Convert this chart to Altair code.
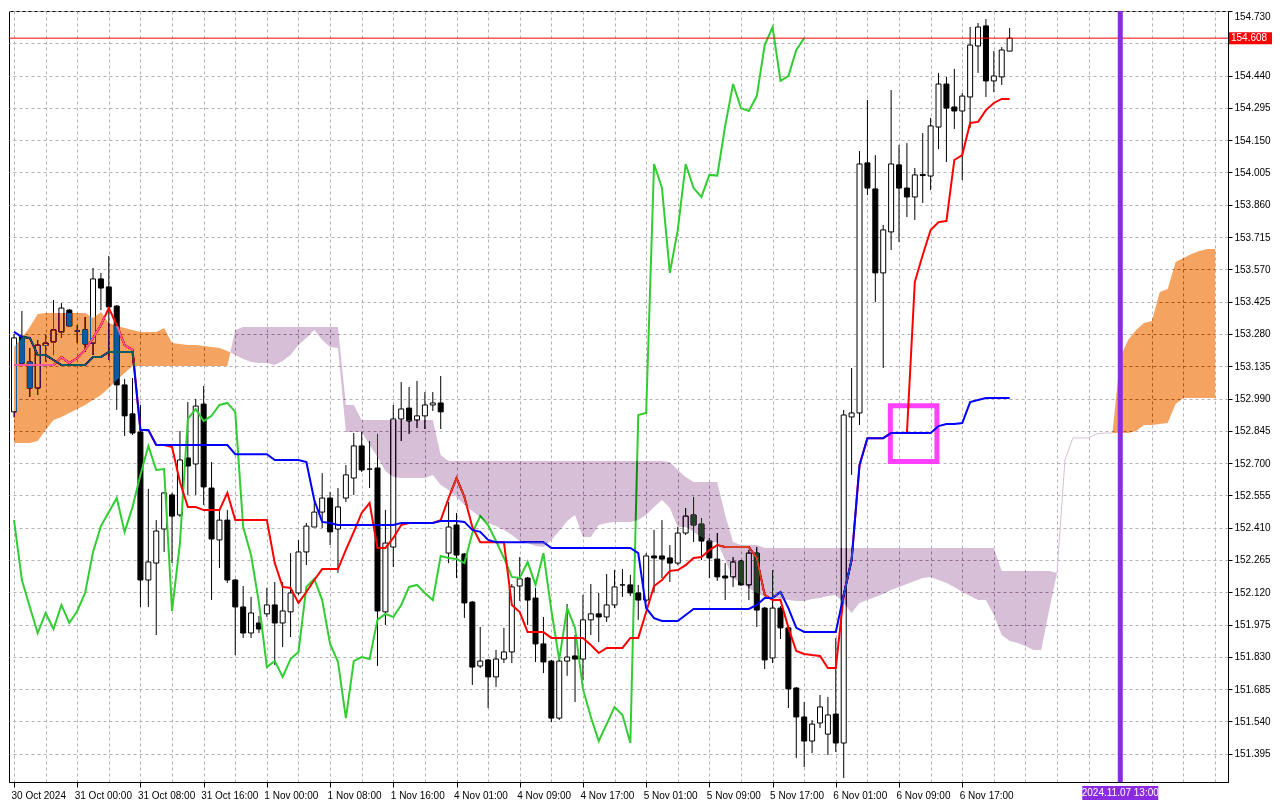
import altair as alt
import pandas as pd

# ---------------- data ----------------
time_labels = ["30 Oct 2024", "31 Oct 00:00", "31 Oct 08:00", "31 Oct 16:00",
               "1 Nov 00:00", "1 Nov 08:00", "1 Nov 16:00", "4 Nov 01:00",
               "4 Nov 09:00", "4 Nov 17:00", "5 Nov 01:00", "5 Nov 09:00",
               "5 Nov 17:00", "6 Nov 01:00", "6 Nov 09:00", "6 Nov 17:00"]
price_ticks = [round(151.395 + 0.145 * k, 3) for k in range(24)]

opens = [152.930, 153.270, 153.154, 153.037, 153.228, 153.244, 153.289, 153.387, 153.293, 153.298,
         153.239, 153.527, 153.491, 153.405, 153.051, 152.921, 152.840, 152.175, 152.251, 152.404,
         152.557, 152.467, 152.723, 152.696, 152.965, 152.588, 152.355, 152.444, 152.175, 152.054,
         151.937, 151.982, 152.023, 152.063, 151.982, 152.032, 152.117, 152.301, 152.413, 152.480,
         152.543, 152.404, 152.543, 152.633, 152.777, 152.673, 152.678, 152.032, 152.323, 152.898,
         152.947, 152.894, 152.912, 152.961, 152.970, 152.296, 152.422, 152.292, 152.076, 151.789,
         151.816, 151.740, 151.820, 151.852, 152.148, 152.184, 152.094, 151.888, 151.811, 151.555,
         151.811, 151.834, 151.820, 151.996, 152.023, 152.009, 152.063, 152.153, 152.153, 152.117,
         152.085, 152.283, 152.283, 152.274, 152.251, 152.386, 152.467, 152.426, 152.350, 152.269,
         152.193, 152.189, 152.260, 152.153, 152.296, 152.049, 151.825, 152.049, 151.960, 151.690,
         151.560, 151.452, 151.533, 151.483, 151.573, 151.443, 152.907, 152.925, 154.048, 153.931,
         153.554, 153.738, 154.039, 153.935, 153.895, 153.996, 153.989, 154.209, 154.402, 154.299,
         154.281, 154.344, 154.573, 154.663, 154.416, 154.434, 154.550]
highs = [153.280, 153.383, 153.217, 153.253, 153.275, 153.432, 153.419, 153.392, 153.320, 153.356,
         153.576, 153.554, 153.630, 153.410, 153.078, 153.082, 152.961, 152.584, 152.444, 152.570,
         152.566, 152.844, 152.974, 152.988, 153.046, 152.705, 152.490, 152.490, 152.180, 152.148,
         152.099, 152.014, 152.140, 152.166, 152.166, 152.296, 152.355, 152.431, 152.534, 152.655,
         152.570, 152.588, 152.691, 152.835, 152.840, 152.799, 152.831, 152.490, 152.961, 153.064,
         153.042, 153.069, 153.019, 153.019, 153.091, 152.525, 152.476, 152.296, 152.081, 151.964,
         151.820, 151.861, 151.960, 152.157, 152.278, 152.189, 152.139, 152.009, 151.816, 151.825,
         152.067, 151.928, 152.108, 152.157, 152.117, 152.202, 152.220, 152.224, 152.198, 152.153,
         152.296, 152.400, 152.444, 152.332, 152.413, 152.498, 152.548, 152.453, 152.364, 152.386,
         152.251, 152.278, 152.265, 152.310, 152.323, 152.054, 152.220, 152.058, 151.964, 151.695,
         151.627, 151.546, 151.659, 151.650, 151.915, 152.939, 153.127, 154.101, 154.330, 154.083,
         153.769, 154.375, 154.128, 154.137, 154.025, 154.182, 154.250, 154.452, 154.434, 154.470,
         154.362, 154.658, 154.676, 154.694, 154.550, 154.568, 154.654]
lows = [152.905, 153.140, 152.997, 153.006, 153.154, 153.185, 153.262, 153.311, 153.239, 153.199,
        153.185, 153.387, 153.163, 152.939, 152.822, 152.826, 152.054, 152.054, 151.928, 152.301,
        152.251, 152.458, 152.557, 152.557, 152.512, 152.085, 152.229, 152.162, 151.838, 151.915,
        151.915, 151.937, 152.009, 151.793, 151.874, 151.919, 152.108, 152.242, 152.413, 152.408,
        152.332, 152.207, 152.525, 152.557, 152.660, 152.588, 151.789, 151.973, 152.233, 152.799,
        152.831, 152.857, 152.853, 152.934, 152.853, 152.251, 152.184, 152.005, 151.704, 151.780,
        151.600, 151.695, 151.802, 151.802, 152.081, 151.973, 151.807, 151.757, 151.537, 151.546,
        151.745, 151.627, 151.727, 151.928, 151.896, 151.987, 152.049, 152.099, 152.103, 151.996,
        152.076, 152.117, 152.184, 152.166, 152.242, 152.377, 152.346, 152.265, 152.184, 152.171,
        152.085, 152.144, 152.148, 152.085, 151.964, 151.775, 151.802, 151.910, 151.600, 151.376,
        151.335, 151.398, 151.510, 151.389, 151.403, 151.286, 152.647, 152.871, 153.904, 153.423,
        153.127, 153.657, 153.693, 153.805, 153.792, 153.868, 153.926, 154.110, 154.052, 154.200,
        153.971, 154.205, 154.452, 154.344, 154.366, 154.398, 154.550]
closes = [153.262, 153.149, 153.037, 153.230, 153.239, 153.298, 153.396, 153.316, 153.293, 153.235,
          153.527, 153.486, 153.401, 153.051, 152.912, 152.835, 152.175, 152.256, 152.395, 152.566,
          152.462, 152.714, 152.687, 152.956, 152.593, 152.359, 152.444, 152.175, 152.054, 151.937,
          152.027, 151.955, 152.063, 151.982, 152.036, 152.117, 152.301, 152.417, 152.480, 152.543,
          152.391, 152.503, 152.647, 152.777, 152.669, 152.673, 152.036, 152.341, 152.898, 152.943,
          152.889, 152.912, 152.961, 152.970, 152.930, 152.413, 152.287, 152.072, 151.784, 151.811,
          151.740, 151.820, 151.852, 152.144, 152.180, 152.085, 151.888, 151.807, 151.555, 151.811,
          151.829, 151.820, 151.996, 152.023, 152.009, 152.063, 152.144, 152.153, 152.117, 152.085,
          152.283, 152.274, 152.269, 152.251, 152.386, 152.462, 152.422, 152.350, 152.274, 152.189,
          152.184, 152.256, 152.153, 152.296, 152.040, 151.816, 152.049, 151.960, 151.686, 151.560,
          151.452, 151.528, 151.605, 151.569, 151.443, 152.916, 152.925, 154.043, 153.935, 153.554,
          153.747, 154.043, 153.935, 153.895, 153.994, 153.991, 154.214, 154.402, 154.294, 154.281,
          154.348, 154.577, 154.658, 154.416, 154.438, 154.555, 154.608]
tenkan = [153.140, 153.140, 153.140, 153.140, 153.140, 153.140, 153.176, 153.149, 153.172, 153.208,
          153.262, 153.320, 153.396, 153.320, 153.230, 153.208, 152.849, 152.849, 152.781, 152.781,
          152.772, 152.615, 152.503, 152.503, 152.489, 152.489, 152.489, 152.566, 152.444, 152.444,
          152.444, 152.444, 152.444, 152.251, 152.144, 152.139, 152.072, 152.121, 152.175, 152.224,
          152.224, 152.224, 152.310, 152.391, 152.476, 152.521, 152.319, 152.319, 152.364, 152.422,
          152.431, 152.431, 152.431, 152.431, 152.444, 152.543, 152.633, 152.548, 152.413, 152.345,
          152.345, 152.345, 152.345, 152.063, 152.031, 151.941, 151.941, 151.941, 151.915, 151.915,
          151.915, 151.915, 151.915, 151.883, 151.847, 151.870, 151.870, 151.870, 151.915, 151.915,
          152.031, 152.148, 152.175, 152.216, 152.220, 152.242, 152.274, 152.278, 152.310, 152.332,
          152.323, 152.323, 152.323, 152.323, 152.274, 152.108, 152.085, 152.085, 151.960, 151.856,
          151.843, 151.838, 151.834, 151.780, 151.780, 152.108, 152.265, 152.691, 152.812, 152.812,
          152.812, 152.835, 152.835, 152.835, 153.514, 153.634, 153.747, 153.782, 153.787, 154.061,
          154.083, 154.227, 154.232, 154.285, 154.317, 154.335, 154.335]
kijun = [153.289, 153.266, 153.262, 153.185, 153.185, 153.163, 153.140, 153.140, 153.140, 153.140,
         153.176, 153.176, 153.199, 153.199, 153.199, 153.199, 152.849, 152.849, 152.781, 152.781,
         152.781, 152.781, 152.781, 152.781, 152.781, 152.781, 152.781, 152.781, 152.740, 152.740,
         152.740, 152.740, 152.740, 152.714, 152.714, 152.714, 152.714, 152.705, 152.534, 152.436,
         152.431, 152.422, 152.422, 152.422, 152.422, 152.422, 152.422, 152.422, 152.422, 152.431,
         152.431, 152.431, 152.431, 152.431, 152.440, 152.440, 152.440, 152.436, 152.400, 152.391,
         152.355, 152.345, 152.345, 152.345, 152.345, 152.345, 152.345, 152.345, 152.319, 152.319,
         152.319, 152.319, 152.319, 152.319, 152.319, 152.319, 152.319, 152.319, 152.319, 152.296,
         152.049, 152.004, 151.991, 151.991, 151.991, 152.018, 152.045, 152.045, 152.045, 152.045,
         152.045, 152.045, 152.045, 152.045, 152.063, 152.094, 152.094, 152.121, 152.049, 151.960,
         151.942, 151.942, 151.942, 151.942, 151.942, 152.108, 152.265, 152.691, 152.812, 152.812,
         152.812, 152.835, 152.835, 152.835, 152.835, 152.835, 152.835, 152.866, 152.875, 152.875,
         152.880, 152.974, 152.983, 152.992, 152.992, 152.992, 152.992]
span_a = [153.221, 153.262, 153.311, 153.369, 153.374, 153.374, 153.374, 153.374, 153.374, 153.374,
          153.351, 153.378, 153.329, 153.316, 153.307, 153.298, 153.289, 153.289, 153.289, 153.307,
          153.239, 153.235, 153.230, 153.230, 153.226, 153.221, 153.217, 153.203, 153.185, 153.167,
          153.154, 153.149, 153.149, 153.140, 153.158, 153.185, 153.230, 153.262, 153.298, 153.253,
          153.221, 153.217, 152.840, 152.840, 152.840, 152.781, 152.727, 152.665, 152.638, 152.633,
          152.633, 152.633, 152.633, 152.647, 152.602, 152.579, 152.548, 152.512, 152.485, 152.458,
          152.431, 152.418, 152.400, 152.377, 152.350, 152.341, 152.328, 152.323, 152.355, 152.395,
          152.440, 152.467, 152.368, 152.368, 152.422, 152.431, 152.436, 152.436, 152.436, 152.444,
          152.467, 152.503, 152.534, 152.498, 152.413, 152.413, 152.391, 152.368, 152.345, 152.345,
          152.265, 152.184, 152.162, 152.139, 152.117, 152.099, 152.094, 152.090, 152.085, 152.081,
          152.081, 152.090, 152.094, 152.103, 152.108, 152.072, 152.027, 152.072, 152.085, 152.099,
          152.112, 152.130, 152.144, 152.157, 152.171, 152.184, 152.189, 152.175, 152.162, 152.144,
          152.121, 152.103, 152.085, 152.085, 152.018, 151.928, 151.901, 151.892, 151.879, 151.861,
          151.861, 152.040, 152.207, 152.714, 152.813, 152.813, 152.813, 152.831, 152.835, 152.835,
          153.176, 153.253, 153.298, 153.329, 153.338, 153.468, 153.482, 153.603, 153.621, 153.639,
          153.652, 153.661, 153.661]
span_b = [152.790, 152.790, 152.790, 152.799, 152.849, 152.894, 152.907, 152.925, 152.943, 152.961,
          152.983, 153.006, 153.037, 153.073, 153.104, 153.136, 153.136, 153.136, 153.136, 153.136,
          153.136, 153.136, 153.136, 153.136, 153.136, 153.136, 153.136, 153.136, 153.298, 153.311,
          153.311, 153.311, 153.311, 153.311, 153.311, 153.311, 153.311, 153.311, 153.311, 153.311,
          153.311, 153.311, 152.961, 152.961, 152.894, 152.894, 152.894, 152.894, 152.894, 152.894,
          152.894, 152.894, 152.894, 152.894, 152.736, 152.709, 152.709, 152.709, 152.709, 152.709,
          152.709, 152.709, 152.709, 152.709, 152.709, 152.709, 152.709, 152.709, 152.709, 152.709,
          152.709, 152.709, 152.709, 152.709, 152.709, 152.709, 152.709, 152.709, 152.709, 152.709,
          152.709, 152.709, 152.709, 152.705, 152.669, 152.638, 152.615, 152.615, 152.615, 152.615,
          152.467, 152.346, 152.332, 152.332, 152.332, 152.319, 152.319, 152.319, 152.319, 152.319,
          152.319, 152.319, 152.319, 152.319, 152.319, 152.319, 152.319, 152.319, 152.319, 152.319,
          152.319, 152.319, 152.319, 152.319, 152.319, 152.319, 152.319, 152.319, 152.319, 152.319,
          152.319, 152.319, 152.319, 152.319, 152.319, 152.216, 152.216, 152.216, 152.216, 152.216,
          152.216, 152.216, 152.207, 152.714, 152.813, 152.813, 152.813, 152.831, 152.835, 152.835,
          152.835, 152.835, 152.844, 152.871, 152.871, 152.875, 152.880, 152.965, 152.992, 152.992,
          152.992, 152.992, 152.992]

bid_price = 154.608
marker_bar = 140
marker_label = "2024.11.07 13:00"
box_bars = [110.9, 116.8]
box_prices = [152.958, 152.707]
chikou_shift = 26

# ---------------- tables ----------------
W, H = 1219, 771
n = len(closes)
candles = pd.DataFrame({"i": range(n), "o": opens, "h": highs, "l": lows, "c": closes})
tenkan_df = pd.DataFrame({"i": range(n), "v": tenkan})
kijun_df = pd.DataFrame({"i": range(n), "v": kijun})
chikou_df = pd.DataFrame({"i": range(n - chikou_shift), "v": closes[chikou_shift:]})

rows = []
for k, (a, b) in enumerate(zip(span_a, span_b)):
    if k > 0:
        pa, pb = span_a[k - 1], span_b[k - 1]
        d0, d1 = pa - pb, a - b
        if d0 * d1 < 0:
            t = d0 / (d0 - d1)
            v = pa + t * (a - pa)
            rows.append({"i": k - 1 + t, "a": v, "b": v})
    rows.append({"i": k, "a": a, "b": b})
cloud = pd.DataFrame(rows)
cloud["hi"] = cloud[["a", "b"]].max(axis=1)

flat_rows, sid, prev = [], 0, None
for k, (a, b) in enumerate(zip(span_a, span_b)):
    if abs(a - b) < 1e-9:
        if prev is not None and k != prev + 1:
            sid += 1
        flat_rows.append({"i": k, "v": a, "s": sid})
        prev = k
flat_df = pd.DataFrame(flat_rows)

box_df = pd.DataFrame({"x0": [box_bars[0]], "x1": [box_bars[1]],
                       "y0": [box_prices[0]], "y1": [box_prices[1]]})
bid_df = pd.DataFrame({"p": [bid_price], "t": [f"{bid_price:.3f}"]})
mark_df = pd.DataFrame({"i": [marker_bar], "t": [marker_label]})

# ---------------- scales / axes ----------------
FONT = "Liberation Sans"
nlab = len(time_labels)
lab_js = "[" + ",".join("'" + s + "'" for s in time_labels) + "]"
lab_test = f"datum.value % 8 == 0 && datum.value / 8 < {nlab}"
xs = alt.Scale(domain=[0, 153], nice=False, zero=False)
ys = alt.Scale(domain=[151.268, 154.730], nice=False, zero=False)
x_axis = alt.Axis(values=list(range(0, 153, 4)), title=None, grid=True,
                  labelExpr=f"({lab_test}) ? {lab_js}[datum.value / 8] : ''",
                  labelAlign="left", labelOffset=-3, labelPadding=3,
                  labelFlush=False, labelOverlap=False, tickSize=5,
                  tickOpacity={"condition": {"test": lab_test, "value": 1}, "value": 0})
# the price tag of the bid covers the tick label right under it (as in MetaTrader)
y_axis = alt.Axis(values=price_ticks, title=None,
                  labelExpr=f"abs(datum.value - {bid_price}) < 0.04 ? '' : format(datum.value, '.3f')",
                  orient="right", grid=True, tickSize=4, labelPadding=2, labelFlush=3,
                  labelOverlap=False)


def X(f):
    return alt.X(f, type="quantitative", scale=xs, axis=x_axis)


def Y(f):
    return alt.Y(f, type="quantitative", scale=ys, axis=y_axis)


base = alt.Chart(candles)
wicks = base.mark_rule(color="black", strokeWidth=1, clip=True).encode(
    x=X("i"), y=Y("l"), y2="h")
bodies = base.mark_bar(size=5, stroke="black", strokeWidth=1, clip=True).encode(
    x=X("i"), y=Y("o"), y2="c",
    fill=alt.condition("datum.c >= datum.o", alt.value("white"), alt.value("black")))

box = alt.Chart(box_df).mark_rect(fill="transparent", stroke="#ff40ff", strokeWidth=5).encode(
    x=X("x0"), x2="x1", y=Y("y0"), y2="y1")

chikou = alt.Chart(chikou_df).mark_line(color="#32CD32", strokeWidth=2).encode(x=X("i"), y=Y("v"))
tk = alt.Chart(tenkan_df).mark_line(color="#FF0000", strokeWidth=2).encode(x=X("i"), y=Y("v"))
kj = alt.Chart(kijun_df).mark_line(color="#0000FF", strokeWidth=2).encode(x=X("i"), y=Y("v"))

# kumo drawn as inverted colours with difference blending (MetaTrader XOR look)
up_cloud = alt.Chart(cloud).mark_area(color="#0B5B9F", blend="difference", opacity=1).encode(
    x=X("i"), y=Y("hi"), y2="b")
dn_cloud = alt.Chart(cloud).mark_area(color="#274027", blend="difference", opacity=1).encode(
    x=X("i"), y=Y("hi"), y2="a")
flat_line = alt.Chart(flat_df).mark_line(color="#D8BFD8", strokeWidth=1).encode(
    x=X("i"), y=Y("v"), detail="s:N")

bid_line = alt.Chart(bid_df).mark_rule(color="#FF0000", strokeWidth=1).encode(y=Y("p"))
bid_box = alt.Chart(bid_df).mark_rect(color="#FF0000", yOffset=-6, y2Offset=6).encode(
    y=Y("p"), y2="p", x=alt.value(W + 1), x2=alt.value(W + 44))
bid_txt = alt.Chart(bid_df).mark_text(color="white", align="left", baseline="middle",
                                       font=FONT, fontSize=10).encode(
    y=Y("p"), x=alt.value(W + 3), text="t:N")

vline = alt.Chart(mark_df).mark_rule(color="#8A2BE2", strokeWidth=5).encode(x=X("i"))
vbox = alt.Chart(mark_df).mark_rect(color="#8A2BE2", xOffset=-38, x2Offset=38).encode(
    x=X("i"), x2="i", y=alt.value(H + 4), y2=alt.value(H + 18))
vtxt = alt.Chart(mark_df).mark_text(color="white", align="center", baseline="middle",
                                     font=FONT, fontSize=10).encode(
    x=X("i"), y=alt.value(H + 11), text="t:N")

chart = alt.layer(
    wicks, bodies, box, chikou, tk, kj, up_cloud, dn_cloud, flat_line,
    bid_line, vline, bid_box, bid_txt, vbox, vtxt
).properties(width=W, height=H, padding=0, background="white").configure_view(
    stroke="black", strokeWidth=1
).configure_axis(
    labelFont=FONT, labelFontSize=10, labelColor="black",
    domainColor="black", tickColor="black",
    gridColor="#b8aeb8", gridDash=[3, 3], gridWidth=1, gridOpacity=1
)

chart.save("out.html", embed_options={"renderer": "svg", "actions": False})
